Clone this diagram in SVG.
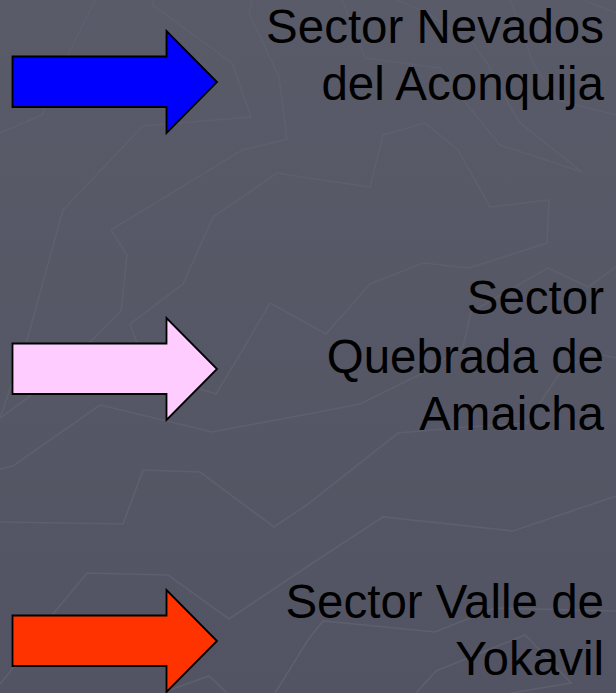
<svg xmlns="http://www.w3.org/2000/svg" width="616" height="693" viewBox="0 0 616 693">
<style>
.bgl{fill:none;stroke:#5d5f6d;stroke-width:1.7;stroke-linejoin:miter}
.arrow{stroke:#000;stroke-width:1.8;stroke-linejoin:miter}
.t{font-family:"Liberation Sans",Arial,sans-serif;font-size:47.5px;fill:#000;text-anchor:end}
</style>
<defs>
<linearGradient id="bg" x1="0" y1="0" x2="0" y2="1"><stop offset="0" stop-color="#595b69"/><stop offset="1" stop-color="#525463"/></linearGradient>
<path id="arr" d="M12.5 25.5H166.5V0L217 51L166.5 102V76H12.5Z"/>
</defs>
<rect width="616" height="693" fill="url(#bg)"/>
<g id="background-lines">
<polyline class="bgl" points="95,0 68,55 42,115 0,133"/>
<polyline class="bgl" points="153,0 153,5 232,63 251,117 143,126 63,210 27,340 0,418"/>
<polyline class="bgl" points="252,0 249,13 279,77 287,139 242,150 111,230 127,255 121,311 92,340 30,396 0,418"/>
<polyline class="bgl" points="200,389 216,394 245,346 270,303 326,334 370,284 423,263 469,268 547,243 549,200 490,207 458,150 425,123 383,135 370,187 308,178 277,173 213,217 183,284 130,324 138,346 150,372"/>
<polyline class="bgl" points="616,267 588,287 548,268 471,312 463,347 421,374 360,404 308,414 212,432 100,405 13,466 0,469"/>
<polyline class="bgl" points="0,522 123,524 143,470 200,472 274,527 308,504 398,433 467,427 527,423 541,401 560,373 590,353 603,355 616,358"/>
<polyline class="bgl" points="0,684 13,668 53,614 87,573 168,575 229,619 308,566 383,517 513,531 616,496"/>
<polyline class="bgl" points="275,693 308,640 323,621 435,632 495,608 616,611"/>
<polyline class="bgl" points="416,693 436,671 525,635 571,683 511,693"/>
<polyline class="bgl" points="167,691 209,676 227,693"/>
<polyline class="bgl" points="342,0 365,58 440,68 466,103 500,145 582,172 520,123 512,110 487,63 473,43 427,13 397,0"/>
<polyline class="bgl" points="510,0 533,63 557,100 616,115"/>
<polyline class="bgl" points="583,0 616,13"/>
</g>
<g id="connectors"></g>
<g id="sector-nevados">
<use href="#arr" y="31" class="arrow" fill="#0000ff"/>
<text class="t" x="604" y="43">Sector Nevados</text>
<text class="t" x="604" y="100">del Aconquija</text>
</g>
<g id="sector-quebrada">
<use href="#arr" y="318" class="arrow" fill="#ffccff"/>
<text class="t" x="604" y="314">Sector</text>
<text class="t" x="604" y="372.5">Quebrada de</text>
<text class="t" x="604" y="430">Amaicha</text>
</g>
<g id="sector-yokavil">
<use href="#arr" y="590" class="arrow" fill="#ff3300"/>
<text class="t" x="604" y="617.5">Sector Valle de</text>
<text class="t" x="604" y="674.5">Yokavil</text>
</g>
</svg>
